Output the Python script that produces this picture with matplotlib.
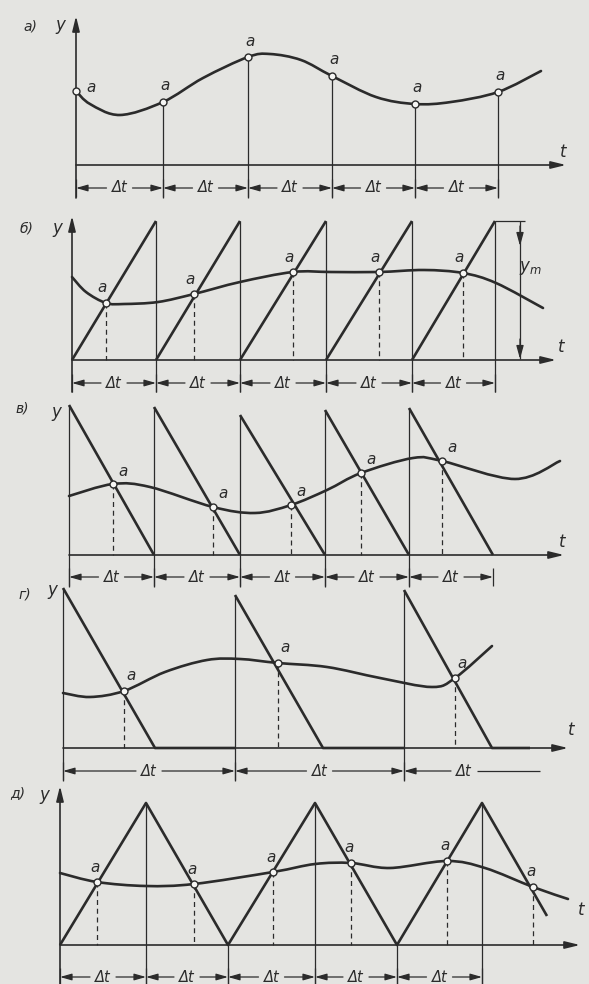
import numpy as np
import matplotlib.pyplot as plt
from matplotlib.path import Path
from matplotlib.patches import PathPatch

INK = '#2b2b2b'
PAPER = '#e4e4e1'

# ---- panel а: sampling of the signal at fixed steps ----
a_knots_t = [76, 90, 120, 163, 203, 248, 270, 301, 332, 376, 415, 451, 498, 541]
a_knots_y = [91, 104, 115, 102, 78, 57, 54, 60, 76, 97, 104, 102, 92, 71]
a_samples = [76, 163, 248, 332, 415, 498]

# ---- panel б: rising saw-tooth sweep ----
b_knots_t = [72, 86, 106, 124, 158, 194, 240, 293, 331, 379, 424, 463, 496, 543]
b_knots_y = [277, 292, 303, 304, 302, 294, 282, 272, 272, 272, 270, 273, 283, 308]
b_samples = [106, 194, 293, 379, 463]
b_ramp_start = [72, 156, 240, 326, 412]
b_ramp_end = [156, 240, 326, 412, 495]

# ---- panel в: falling saw-tooth sweep ----
c_knots_t = [69, 113, 150, 213, 255, 291, 327, 361, 413, 442, 515, 560]
c_knots_y = [496, 484, 487, 507, 513, 505, 490, 473, 458, 461, 479, 461]
c_samples = [113, 213, 291, 361, 442]
c_ramp_start = [69, 154, 240, 325, 409]
c_ramp_end = [154, 240, 325, 409, 493]
c_ramp_top = [405, 407, 415, 410, 408]

# ---- panel г: falling ramp with idle interval ----
d_knots_t = [63, 90, 124, 165, 207, 240, 278, 327, 380, 432, 455, 492]
d_knots_y = [693, 697, 691, 672, 660, 659, 663, 667, 678, 687, 678, 646]
d_samples = [124, 278, 455]
d_ramp_start = [63, 235, 404]
d_ramp_end = [155, 323, 492]
d_ramp_top = [588, 595, 590]
d_idle_end = [235, 404, 530]

# ---- panel д: triangular sweep ----
e_knots_t = [60, 97, 146, 194, 273, 315, 351, 390, 447, 485, 533, 568]
e_knots_y = [873, 882, 886, 884, 872, 864, 863, 868, 861, 868, 887, 899]
e_samples = [97, 194, 273, 351, 447, 533]
e_tri_t = [60, 146, 228, 315, 397, 482, 547]
e_tri_y = [945, 803, 945, 803, 945, 803, 916]


def smooth_path(ts, ys):
    pts = np.column_stack([ts, ys]).astype(float)
    ext = np.vstack([pts[0], pts, pts[-1]])
    verts = [pts[0]]
    codes = [Path.MOVETO]
    for i in range(len(pts) - 1):
        p0, p1, p2, p3 = ext[i], ext[i + 1], ext[i + 2], ext[i + 3]
        verts += [p1 + (p2 - p0) / 6, p2 - (p3 - p1) / 6, p2]
        codes += [Path.CURVE4] * 3
    return Path(verts, codes)


def signal(ax, ts, ys):
    ax.add_patch(PathPatch(smooth_path(ts, ys), fill=False, lw=1.9,
                           edgecolor=INK, capstyle='round', zorder=3))


def arrow(ax, tail, tip, lw=1.1, hl=0.9, hw=0.22):
    ax.annotate('', xy=tip, xytext=tail,
                arrowprops=dict(arrowstyle=f'-|>,head_length={hl},head_width={hw}',
                                lw=lw, color=INK, shrinkA=0, shrinkB=0,
                                mutation_scale=10))


def line(ax, xs, ys, lw=0.9, **kw):
    ax.plot(xs, ys, color=INK, lw=lw, solid_capstyle='butt', **kw)


def marks(ax, ts, kt, ky, base, dx, dy, dashed=True):
    ys = np.interp(ts, kt, ky)
    for t, y in zip(ts, ys):
        if dashed:
            ax.plot([t, t], [y, base], color=INK, lw=0.9, ls=(0, (4, 3)), zorder=2)
        ax.text(t + dx, y + dy, 'a', fontsize=11, style='italic', color=INK,
                ha='center', va='center')
    ax.plot(ts, ys, 'o', ms=5, mfc='#f6f6f4', mec=INK, mew=1.0, zorder=5)


def dim_row(ax, bounds, y, open_end=None):
    for x in bounds:
        line(ax, [x, x], [y - 9, y + 9], lw=0.9)
    for x0, x1 in zip(bounds[:-1], bounds[1:]):
        xc = (x0 + x1) / 2
        ax.text(xc, y, 'Δt', fontsize=10.5, style='italic', color=INK,
                ha='center', va='center')
        arrow(ax, (xc - 13, y), (x0, y), lw=0.9, hl=0.7, hw=0.2)
        arrow(ax, (xc + 13, y), (x1, y), lw=0.9, hl=0.7, hw=0.2)
    if open_end is not None:
        x0, x1 = bounds[-1], open_end
        xc = (x0 + x1) / 2 - 8
        ax.text(xc, y, 'Δt', fontsize=10.5, style='italic', color=INK,
                ha='center', va='center')
        arrow(ax, (xc - 13, y), (x0, y), lw=0.9, hl=0.7, hw=0.2)
        line(ax, [xc + 13, x1], [y, y], lw=0.9)


def label(ax, letter, x, y):
    ax.text(x, y, letter, fontsize=10, style='italic', color=INK, ha='center', va='center')


def text(ax, s, x, y, size=12):
    ax.text(x, y, s, fontsize=size, style='italic', color=INK, ha='center', va='center')


fig = plt.figure(figsize=(5.89, 9.84), dpi=100)
fig.patch.set_facecolor(PAPER)
ax = fig.add_axes([0, 0, 1, 1])
ax.set_xlim(0, 589)
ax.set_ylim(984, 0)
ax.axis('off')

# а)
arrow(ax, (76, 198), (76, 16), lw=1.2)
arrow(ax, (76, 165), (566, 165), lw=1.2)
a_vals = np.interp(a_samples, a_knots_t, a_knots_y)
for t, v in zip(a_samples[1:], a_vals[1:]):
    line(ax, [t, t], [v, 198])
signal(ax, a_knots_t, a_knots_y)
ax.plot(a_samples, a_vals, 'o', ms=5, mfc='#f6f6f4', mec=INK, mew=1.0, zorder=5)
ax.text(a_samples[0] + 15, a_vals[0] - 4, 'a', fontsize=11, style='italic', color=INK,
        ha='center', va='center')
for t, v in zip(a_samples[1:], a_vals[1:]):
    ax.text(t + 2, v - 16, 'a', fontsize=11, style='italic', color=INK,
            ha='center', va='center')
dim_row(ax, a_samples, 188)
label(ax, 'а)', 30, 27)
text(ax, 'y', 60, 25)
text(ax, 't', 563, 152)

# б)
arrow(ax, (72, 392), (72, 216), lw=1.2)
arrow(ax, (72, 360), (556, 360), lw=1.2)
for s, e in zip(b_ramp_start, b_ramp_end):
    line(ax, [s, e], [360, 221], lw=1.9)
    line(ax, [e, e], [221, 392])
line(ax, [495, 525], [221, 221])
line(ax, [520, 520], [221, 359])
arrow(ax, (520, 226), (520, 246), lw=0.9, hl=0.8, hw=0.22)
arrow(ax, (520, 339), (520, 359), lw=0.9, hl=0.8, hw=0.22)
ax.text(530, 268, r'$y_m$', fontsize=12, color=INK, ha='center', va='center')
signal(ax, b_knots_t, b_knots_y)
marks(ax, b_samples, b_knots_t, b_knots_y, 360, -4, -15)
dim_row(ax, [72] + b_ramp_end, 383)
label(ax, 'б)', 26, 229)
text(ax, 'y', 57, 228)
text(ax, 't', 561, 347)

# в)
arrow(ax, (69, 555), (564, 555), lw=1.2)
for s, e, top in zip(c_ramp_start, c_ramp_end, c_ramp_top):
    line(ax, [s, s], [top, 587])
    line(ax, [s, e], [top, 555], lw=1.9)
signal(ax, c_knots_t, c_knots_y)
marks(ax, c_samples, c_knots_t, c_knots_y, 555, 10, -13)
dim_row(ax, [69] + c_ramp_end, 577)
label(ax, 'в)', 22, 408)
text(ax, 'y', 56, 412)
text(ax, 't', 562, 542)

# г)
arrow(ax, (63, 748), (568, 748), lw=1.2)
for s, e, top, idle in zip(d_ramp_start, d_ramp_end, d_ramp_top, d_idle_end):
    line(ax, [s, s], [top, 781])
    line(ax, [s, e, idle], [top, 748, 748], lw=1.9)
signal(ax, d_knots_t, d_knots_y)
marks(ax, d_samples, d_knots_t, d_knots_y, 748, 7, -15)
dim_row(ax, d_ramp_start, 771, open_end=540)
label(ax, 'г)', 25, 594)
text(ax, 'y', 52, 590)
text(ax, 't', 571, 730)

# д)
arrow(ax, (60, 984), (60, 786), lw=1.2)
arrow(ax, (60, 945), (580, 945), lw=1.2)
line(ax, e_tri_t, e_tri_y, lw=1.9)
for t, v in zip(e_tri_t[1:-1], e_tri_y[1:-1]):
    line(ax, [t, t], [v, 984])
signal(ax, e_knots_t, e_knots_y)
marks(ax, e_samples, e_knots_t, e_knots_y, 945, -2, -15)
dim_row(ax, e_tri_t[:-1], 977)
label(ax, 'д)', 18, 793)
text(ax, 'y', 44, 795)
text(ax, 't', 581, 910)

fig.savefig('out.png', dpi=100, facecolor=PAPER)
